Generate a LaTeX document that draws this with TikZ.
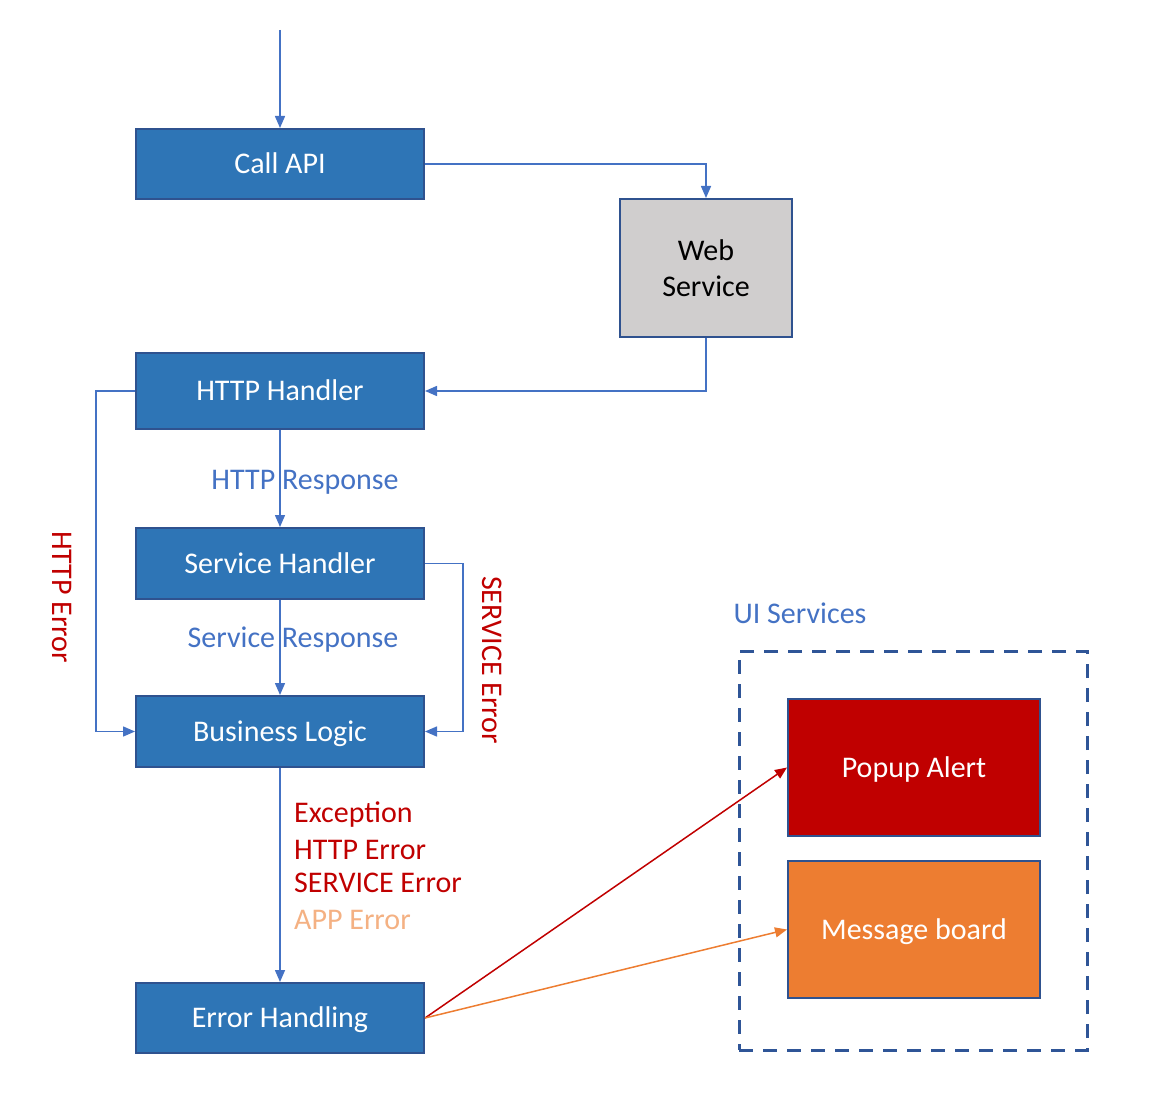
\documentclass[tikz,border=0pt]{standalone}
\usepackage{fontspec}
\setmainfont{Carlito}
\usetikzlibrary{arrows.meta}
\definecolor{boxblue}{HTML}{2E75B6}
\definecolor{boxborder}{HTML}{2F528F}
\definecolor{arrowblue}{HTML}{4472C4}
\definecolor{errred}{HTML}{C00000}
\definecolor{alertorange}{HTML}{ED7D31}
\definecolor{apporange}{HTML}{F4B183}
\definecolor{svcgray}{HTML}{D0CECE}
\definecolor{dashblue}{HTML}{2F5597}
\tikzset{
    flowbox/.style={draw=boxborder, line width=2pt, fill=boxblue, text=white, minimum width=288pt, minimum height=70pt, inner sep=0pt},
    capbox/.style={text height=19.5pt, text depth=0pt},
    flowarrow/.style={draw=arrowblue, line width=1.5pt, -{Triangle[length=12pt,width=10pt]}},
    biglabel/.style={font=\fontsize{30}{36}\selectfont},
}
\begin{document}
\begin{tikzpicture}[x=1pt, y=-1pt, biglabel]
    \useasboundingbox (0,0) rectangle (1172,1094);
    % Main chain
    \node[flowbox, capbox] (callapi) at (280,164) {Call API};
    \node[flowbox, fill=svcgray, text=black, minimum width=172pt, minimum height=138pt, align=center] (websvc) at (706,268) {Web\\Service};
    \node[flowbox, capbox, minimum height=76pt] (httphandler) at (280,391) {HTTP Handler};
    \node[flowbox, capbox, minimum height=71pt] (svchandler) at (280,563.5) {Service Handler};
    \node[flowbox, capbox, minimum height=71pt] (bizlogic) at (280,731.5) {Business Logic};
    \node[flowbox, capbox] (errhandling) at (280,1018) {Error Handling};

    % UI services
    \node[text=arrowblue] (uilabel) at (800,613) {UI Services};
    \node[draw=dashblue, line width=3pt, dash pattern=on 14pt off 10pt, minimum width=348pt, minimum height=399pt] (uisvc) at (913,850.5) {};
    \node[flowbox, capbox, fill=errred, minimum width=252pt, minimum height=137pt] (popup) at (914,767.5) {Popup Alert};
    \node[flowbox, capbox, fill=alertorange, minimum width=252pt, minimum height=137pt] (msgboard) at (914,929.5) {Message board};

    % Connectors
    \coordinate (start) at (280,30);
    \draw[flowarrow] (start) -- (callapi);
    \draw[flowarrow] (callapi.east) -| (websvc.north);
    \draw[flowarrow] (websvc.south) |- (httphandler.east);
    \draw[flowarrow] (httphandler) -- (svchandler);
    \draw[flowarrow] (svchandler) -- (bizlogic);
    \draw[flowarrow] (bizlogic) -- (errhandling);
    \draw[flowarrow] (httphandler.west) -- +(-39,0) |- (bizlogic.west);
    \draw[flowarrow] (svchandler.east) -- +(38,0) |- (bizlogic.east);
    \draw[flowarrow, draw=errred] (errhandling.east) -- (popup.west);
    \draw[flowarrow, draw=alertorange] (errhandling.east) -- (msgboard.west);

    % Labels
    \node[text=arrowblue] (httpresp) at (305,482) {HTTP Response};
    \node[text=arrowblue] (svcresp) at (293,640) {Service Response};
    \node[text=errred, rotate=-90] (httperr) at (62,597) {HTTP Error};
    \node[text=errred, rotate=-90] (svcerr) at (492,660) {SERVICE Error};
    \node[text=errred, anchor=base west, inner sep=0pt] (exc) at (294,822) {Exception};
    \node[text=errred, anchor=base west, inner sep=0pt] (exchttp) at (294,859) {HTTP Error};
    \node[text=errred, anchor=base west, inner sep=0pt] (excsvc) at (294,892) {SERVICE Error};
    \node[text=apporange, anchor=base west, inner sep=0pt] (excapp) at (294,929) {APP Error};
\end{tikzpicture}
\end{document}
